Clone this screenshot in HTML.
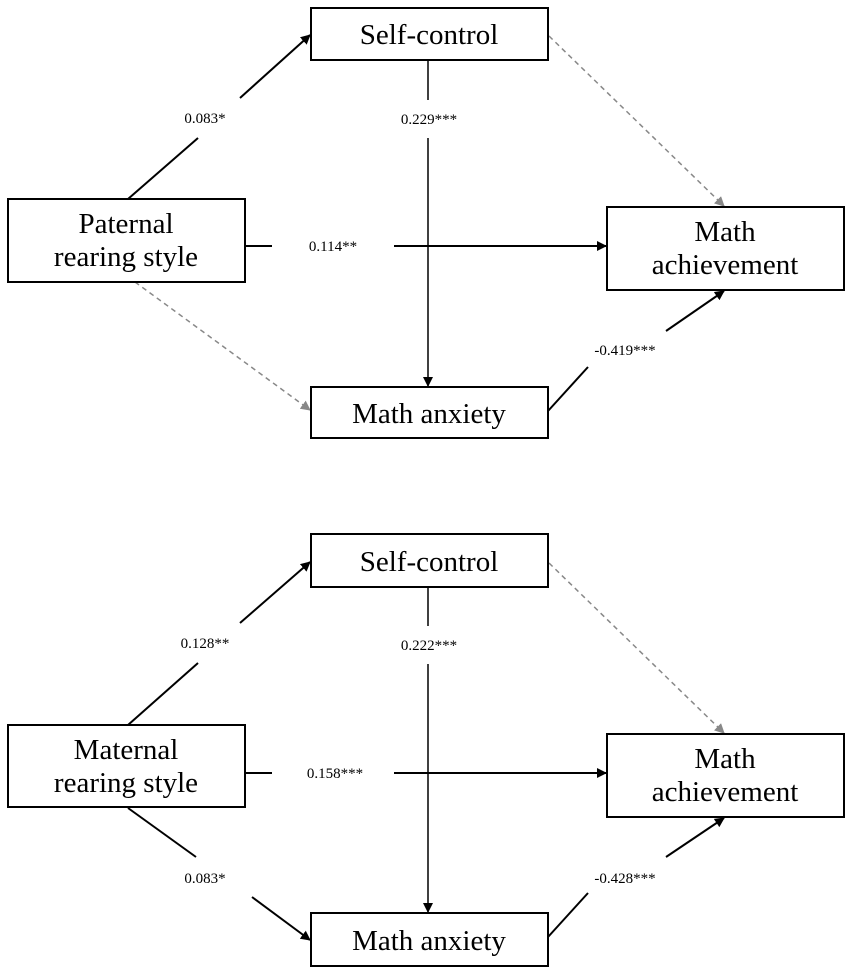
<!DOCTYPE html>
<html><head><meta charset="utf-8"><style>
html,body{margin:0;padding:0;background:#fff;}
svg{display:block;}
.box{fill:#fff;stroke:#000;stroke-width:2;}
.t{font-family:"Liberation Serif",serif;font-size:29px;fill:#000;text-anchor:middle;}
.l{font-family:"Liberation Serif",serif;font-size:15px;fill:#000;text-anchor:middle;}
.s{stroke:#000;stroke-width:2;fill:none;}
.v{stroke:#000;stroke-width:1.5;fill:none;}
.d{stroke:#888;stroke-width:1.5;stroke-dasharray:5,4;fill:none;}
</style></head><body>
<svg width="851" height="974" viewBox="0 0 851 974" xmlns="http://www.w3.org/2000/svg">
<defs>
<marker id="a" markerWidth="10" markerHeight="10" refX="9" refY="5" orient="auto" markerUnits="userSpaceOnUse"><path d="M0,0 L10,5 L0,10 z" fill="#000"/></marker>
<marker id="g" markerWidth="10" markerHeight="10" refX="9" refY="5" orient="auto" markerUnits="userSpaceOnUse"><path d="M0,0 L10,5 L0,10 z" fill="#888"/></marker>
</defs>

<!-- TOP -->
<line class="s" x1="128" y1="199" x2="198" y2="138"/>
<line class="s" x1="240" y1="98" x2="310" y2="35" marker-end="url(#a)"/>
<text class="l" x="205" y="123">0.083*</text>
<line class="v" x1="428" y1="60" x2="428" y2="100"/>
<line class="v" x1="428" y1="138" x2="428" y2="386" marker-end="url(#a)"/>
<text class="l" x="429" y="124">0.229***</text>
<line class="s" x1="245" y1="246" x2="272" y2="246"/>
<line class="s" x1="394" y1="246" x2="606" y2="246" marker-end="url(#a)"/>
<text class="l" x="333" y="251">0.114**</text>
<line class="d" x1="549" y1="36" x2="724" y2="206" marker-end="url(#g)"/>
<line class="d" x1="135" y1="282" x2="310" y2="410" marker-end="url(#g)"/>
<line class="s" x1="548" y1="411" x2="588" y2="367"/>
<line class="s" x1="666" y1="331" x2="724" y2="291" marker-end="url(#a)"/>
<text class="l" x="625" y="355">-0.419***</text>

<rect class="box" x="311" y="8" width="237" height="52"/>
<text class="t" x="429" y="44">Self-control</text>
<rect class="box" x="8" y="199" width="237" height="83"/>
<text class="t" x="126" y="233">Paternal</text>
<text class="t" x="126" y="266">rearing style</text>
<rect class="box" x="607" y="207" width="237" height="83"/>
<text class="t" x="725" y="241">Math</text>
<text class="t" x="725" y="274">achievement</text>
<rect class="box" x="311" y="387" width="237" height="51"/>
<text class="t" x="429" y="423">Math anxiety</text>

<!-- BOTTOM -->
<line class="s" x1="128" y1="725" x2="198" y2="663"/>
<line class="s" x1="240" y1="623" x2="310" y2="562" marker-end="url(#a)"/>
<text class="l" x="205" y="648">0.128**</text>
<line class="v" x1="428" y1="587" x2="428" y2="626"/>
<line class="v" x1="428" y1="664" x2="428" y2="912" marker-end="url(#a)"/>
<text class="l" x="429" y="650">0.222***</text>
<line class="s" x1="245" y1="773" x2="272" y2="773"/>
<line class="s" x1="394" y1="773" x2="606" y2="773" marker-end="url(#a)"/>
<text class="l" x="335" y="778">0.158***</text>
<line class="d" x1="549" y1="563" x2="724" y2="733" marker-end="url(#g)"/>
<line class="s" x1="128" y1="808" x2="196" y2="857"/>
<line class="s" x1="252" y1="897" x2="310" y2="940" marker-end="url(#a)"/>
<text class="l" x="205" y="883">0.083*</text>
<line class="s" x1="548" y1="937" x2="588" y2="893"/>
<line class="s" x1="666" y1="857" x2="724" y2="818" marker-end="url(#a)"/>
<text class="l" x="625" y="883">-0.428***</text>

<rect class="box" x="311" y="534" width="237" height="53"/>
<text class="t" x="429" y="571">Self-control</text>
<rect class="box" x="8" y="725" width="237" height="82"/>
<text class="t" x="126" y="759">Maternal</text>
<text class="t" x="126" y="792">rearing style</text>
<rect class="box" x="607" y="734" width="237" height="83"/>
<text class="t" x="725" y="768">Math</text>
<text class="t" x="725" y="801">achievement</text>
<rect class="box" x="311" y="913" width="237" height="53"/>
<text class="t" x="429" y="950">Math anxiety</text>
</svg>
</body></html>
